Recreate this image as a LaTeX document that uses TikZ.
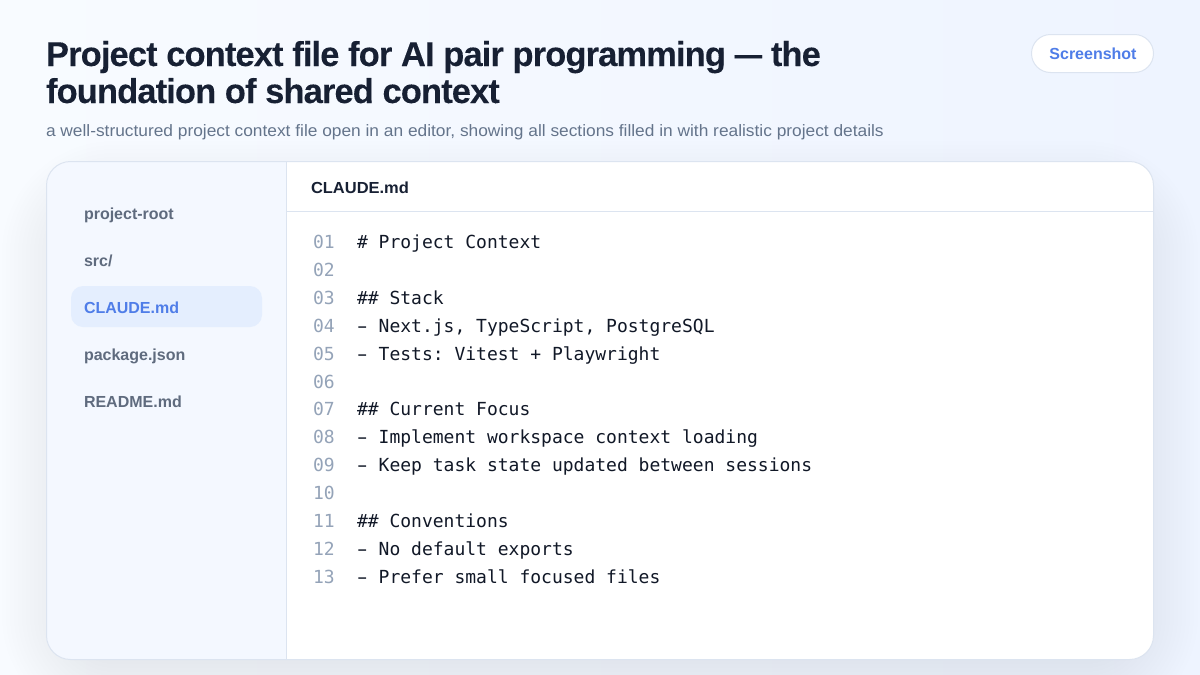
\documentclass[tikz,border=0pt]{standalone}
\usepackage{fontspec}
\setmainfont{Liberation Sans}
\newfontfamily\titlefont[FakeStretch=1.0,LetterSpace=-2.6,FakeBold=0.1]{Liberation Sans Bold}
\newfontfamily\subfont[FakeStretch=1.05]{Liberation Sans}
\newfontfamily\sidefont[FakeStretch=1.0]{Liberation Sans Bold}
\newfontfamily\hdrfont[FakeStretch=1.03]{Liberation Sans Bold}
\newfontfamily\codefont{DejaVu Sans Mono}
\definecolor{bgA}{HTML}{F8FBFF}
\definecolor{bgB}{HTML}{EEF4FF}
\definecolor{ink}{HTML}{172033}
\definecolor{muted}{HTML}{64748B}
\definecolor{sidetext}{HTML}{5F6B7E}
\definecolor{accent}{HTML}{4F7DE8}
\definecolor{edge}{HTML}{DCE4F0}
\definecolor{sidebg}{HTML}{F4F8FF}
\definecolor{activebg}{HTML}{E4EEFE}
\definecolor{numc}{HTML}{94A3B8}
\definecolor{codec}{HTML}{111827}
\definecolor{shadowc}{HTML}{20426F}
\newcommand{\dashmark}{\makebox[0.602em]{\scalebox{1.7}[1]{-}}}
\tikzset{
  txt/.style={anchor=base west,inner sep=0pt,outer sep=0pt},
  titletxt/.style={txt,text=ink,font=\titlefont\fontsize{34.5}{37}\selectfont},
  subtxt/.style={txt,text=muted,font=\subfont\fontsize{16.5}{20}\selectfont},
  sidetxt/.style={txt,text=sidetext,font=\sidefont\fontsize{16}{20}\selectfont},
  numtxt/.style={txt,text=numc,font=\codefont\fontsize{18}{22}\selectfont},
  codetxt/.style={txt,text=codec,font=\codefont\fontsize{18}{22}\selectfont},
}
\begin{document}
\frenchspacing
\begin{tikzpicture}[x=1pt,y=-1pt]
\useasboundingbox (0,0) rectangle (1200,675);
\shade[shading angle=135,left color=bgA,right color=bgB] (0,0) rectangle (1200,675);
% soft shadow of the card
\foreach \s in {0,...,22}{
  \pgfmathsetmacro{\e}{-44+4*\s}
  \pgfmathsetmacro{\r}{24+4*\s}
  \fill[shadowc,opacity=0.0056,rounded corners=\r pt]
    ({46-\e},{161-\e+24}) rectangle ({1154+\e},{660+\e+24});
}
% card
\fill[white,rounded corners=24] (46.5,161.5) rectangle (1153.5,659.5);
\begin{scope}
  \clip[rounded corners=24] (46.5,161.5) rectangle (1153.5,659.5);
  \fill[sidebg] (46.5,161.5) rectangle (286.5,659.5);
\end{scope}
\draw[edge,line width=1pt] (286.5,161.5) -- (286.5,659.5);
\draw[edge,line width=1pt] (286.5,211.5) -- (1153.5,211.5);
\draw[edge,line width=1pt,rounded corners=24] (46.5,161.5) rectangle (1153.5,659.5);
% pill
\draw[edge,fill=white,line width=1pt,rounded corners=19] (1031.5,34.5) rectangle (1153.5,72.5);
\node[txt,anchor=base,text=accent,font=\sidefont\fontsize{16}{20}\selectfont] (pill) at (1093,59.5) {Screenshot};
% heading
\node[titletxt] (t1) at (46,66) {Project context file for AI pair programming \scalebox{0.8}[1]{—} the};
\node[titletxt] (t2) at (46,103) {foundation of shared context};
\node[subtxt] (sub) at (46,136) {a well-structured project context file open in an editor, showing all sections filled in with realistic project details};
% sidebar
\fill[activebg,rounded corners=12] (71,286) rectangle (262,327);
\node[sidetxt] (s1) at (84,219) {project-root};
\node[sidetxt] (s2) at (84,266) {src/};
\node[sidetxt,text=accent] (s3) at (84,313) {CLAUDE.md};
\node[sidetxt] (s4) at (84,360) {package.json};
\node[sidetxt] (s5) at (84,407) {README.md};
% editor header
\node[txt,text=ink,font=\hdrfont\fontsize{16}{18}\selectfont] (hdr) at (311,193) {CLAUDE.md};
% code
\foreach \n/\y/\c in {
 01/248/{\#\ Project Context},
 02/276/{},
 03/304/{\#\#\ Stack},
 04/332/{\dashmark\ Next.js, TypeScript, PostgreSQL},
 05/360/{\dashmark\ Tests: Vitest + Playwright},
 06/388/{},
 07/415/{\#\#\ Current Focus},
 08/443/{\dashmark\ Implement workspace context loading},
 09/471/{\dashmark\ Keep task state updated between sessions},
 10/499/{},
 11/527/{\#\#\ Conventions},
 12/555/{\dashmark\ No default exports},
 13/583/{\dashmark\ Prefer small focused files}}{
  \node[numtxt] (n\n) at (313,\y) {\n};
  \node[codetxt] (c\n) at (357,\y) {\c};
}
\end{tikzpicture}
\end{document}
